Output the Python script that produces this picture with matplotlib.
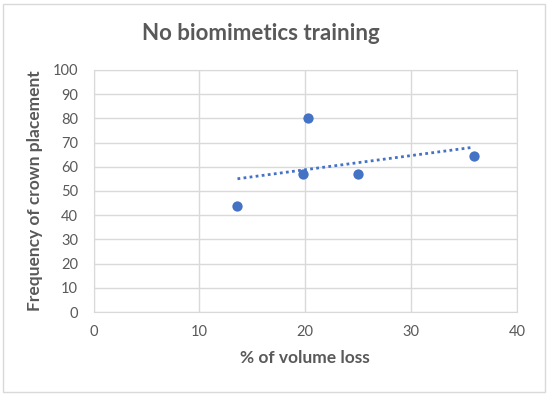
import matplotlib.pyplot as plt
from matplotlib.patches import Rectangle
import numpy as np

# Data.
volume_loss = [13.6, 19.8, 20.3, 25.0, 35.9]
crown_freq = [43.8, 57.0, 80.0, 57.0, 64.6]
x_ticks = [0, 10, 20, 30, 40]
y_ticks = [0, 10, 20, 30, 40, 50, 60, 70, 80, 90, 100]

blue = '#4472C4'
text_gray = '#595959'
grid_gray = '#d9d9d9'

plt.rcParams['font.family'] = ['Lato', 'DejaVu Sans']

fig = plt.figure(figsize=(5.5, 3.97), dpi=100)
ax = fig.add_axes([0.170, 0.214, 0.770, 0.610])

# Outer chart border like the Excel chart area.
fig.patches.append(Rectangle((3 / 550, 5 / 397), 542 / 550, 388 / 397,
                             transform=fig.transFigure, fill=False,
                             edgecolor=grid_gray, linewidth=1))

ax.scatter(volume_loss, crown_freq, s=55, color=blue, zorder=3, linewidths=0)

# Linear trendline over the data range.
slope, intercept = np.polyfit(volume_loss, crown_freq, 1)
xs = np.array([min(volume_loss), max(volume_loss)])
ax.plot(xs, slope * xs + intercept, linestyle=(0, (1, 1.2)), color=blue,
        linewidth=2, zorder=2)

ax.set_xlim(0, 40)
ax.set_ylim(0, 100)
ax.set_xticks(x_ticks)
ax.set_yticks(y_ticks)
ax.grid(True, color=grid_gray, linewidth=1)
ax.set_axisbelow(True)
for spine in ax.spines.values():
    spine.set_color(grid_gray)
ax.tick_params(axis='y', length=0, colors=text_gray, labelsize=10.5, pad=11)
ax.tick_params(axis='x', length=0, colors=text_gray, labelsize=10.5, pad=9)

ax.set_xlabel('% of volume loss', fontsize=12.5, fontweight='bold', color=text_gray, labelpad=8)
ax.set_ylabel('Frequency of crown placement', fontsize=12.5, fontweight='bold', color=text_gray, labelpad=7)
fig.text(0.475, 0.915, 'No biomimetics training', ha='center', va='center',
         fontsize=16, fontweight='bold', color=text_gray)

fig.savefig('out.png', dpi=100)
